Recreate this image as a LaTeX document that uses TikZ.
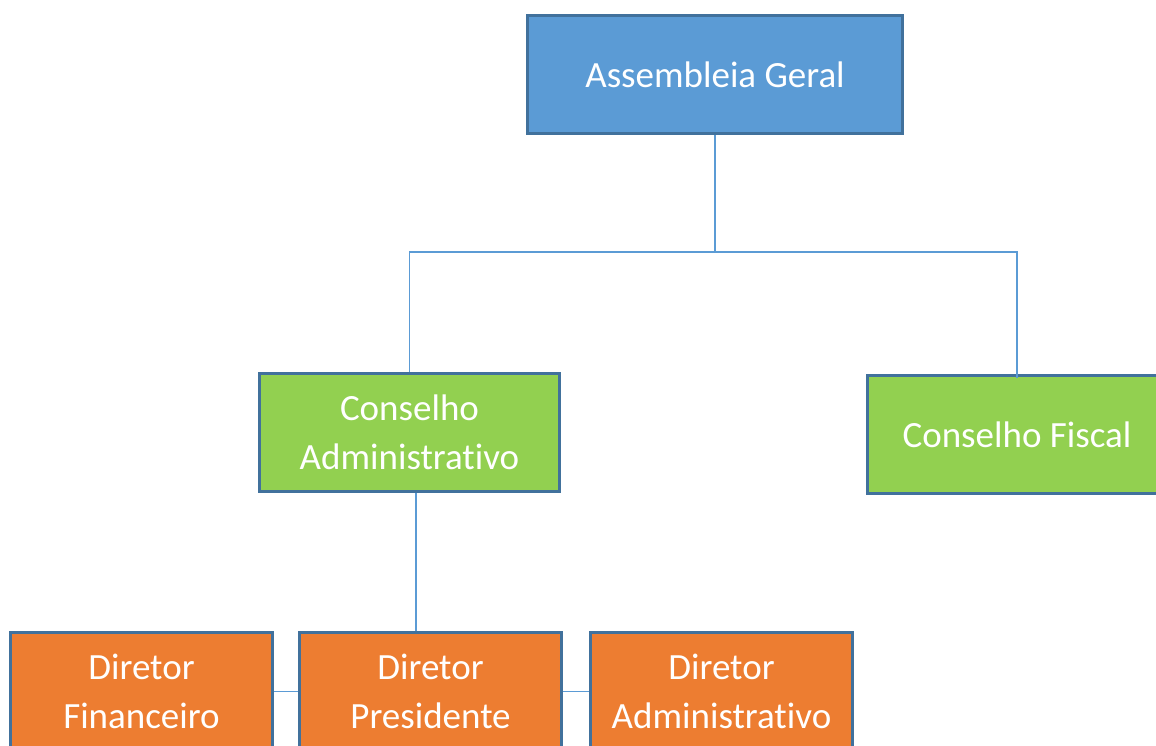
\documentclass[tikz,border=0pt]{standalone}
\usepackage{fontspec}
\setmainfont{Carlito}[Ligatures=NoCommon]
\usepackage{tikz}
\usetikzlibrary{positioning}

\definecolor{azul}{HTML}{5B9BD5}
\definecolor{borda}{HTML}{41719C}
\definecolor{verde}{HTML}{92D050}
\definecolor{laranja}{HTML}{ED7D31}

\tikzset{
  caixa/.style={draw=borda, line width=3pt, text=white, align=center,
    inner sep=0pt, minimum height=118pt,
    font=\fontsize{37}{49}\selectfont},
  ligacao/.style={draw=azul, line width=1.5pt}
}

\begin{document}
\begin{tikzpicture}[x=1pt, y=-1pt]
    \useasboundingbox (0,0) rectangle (1156,745);
    \clip (0,0) rectangle (1156,745);

    % Caixas {ag, ca, cf, df, dp, da}
    \node [caixa, fill=azul,    minimum width=375pt] (ag) at (715,74.5)  {Assembleia Geral};
    \node [caixa, fill=verde,   minimum width=300pt] (ca) at (409.5,432.5) {Conselho\\Administrativo};
    \node [caixa, fill=verde,   minimum width=300pt] (cf) at (1017,434.5) {Conselho Fiscal};
    \node [caixa, fill=laranja, minimum width=262pt] (dp) at (430.5,691.5) {Diretor\\Presidente};
    \node [caixa, fill=laranja, minimum width=262pt] (df) [left=24pt of dp]  {Diretor\\Financeiro};
    \node [caixa, fill=laranja, minimum width=262pt] (da) [right=26pt of dp] {Diretor\\Administrativo};

    % Ligacoes
    \coordinate (barra) at (715,252);
    \path [ligacao] (ag) -- (barra) -| (ca);
    \path [ligacao] (barra) -| ([yshift=-4pt]cf.north);
    \path [ligacao] ([xshift=6.5pt]ca.south) -- ([xshift=6.5pt]ca.south |- dp.north);
    \path [ligacao] (df) -- (dp);
    \path [ligacao] (dp) -- (da);

\end{tikzpicture}
\end{document}
